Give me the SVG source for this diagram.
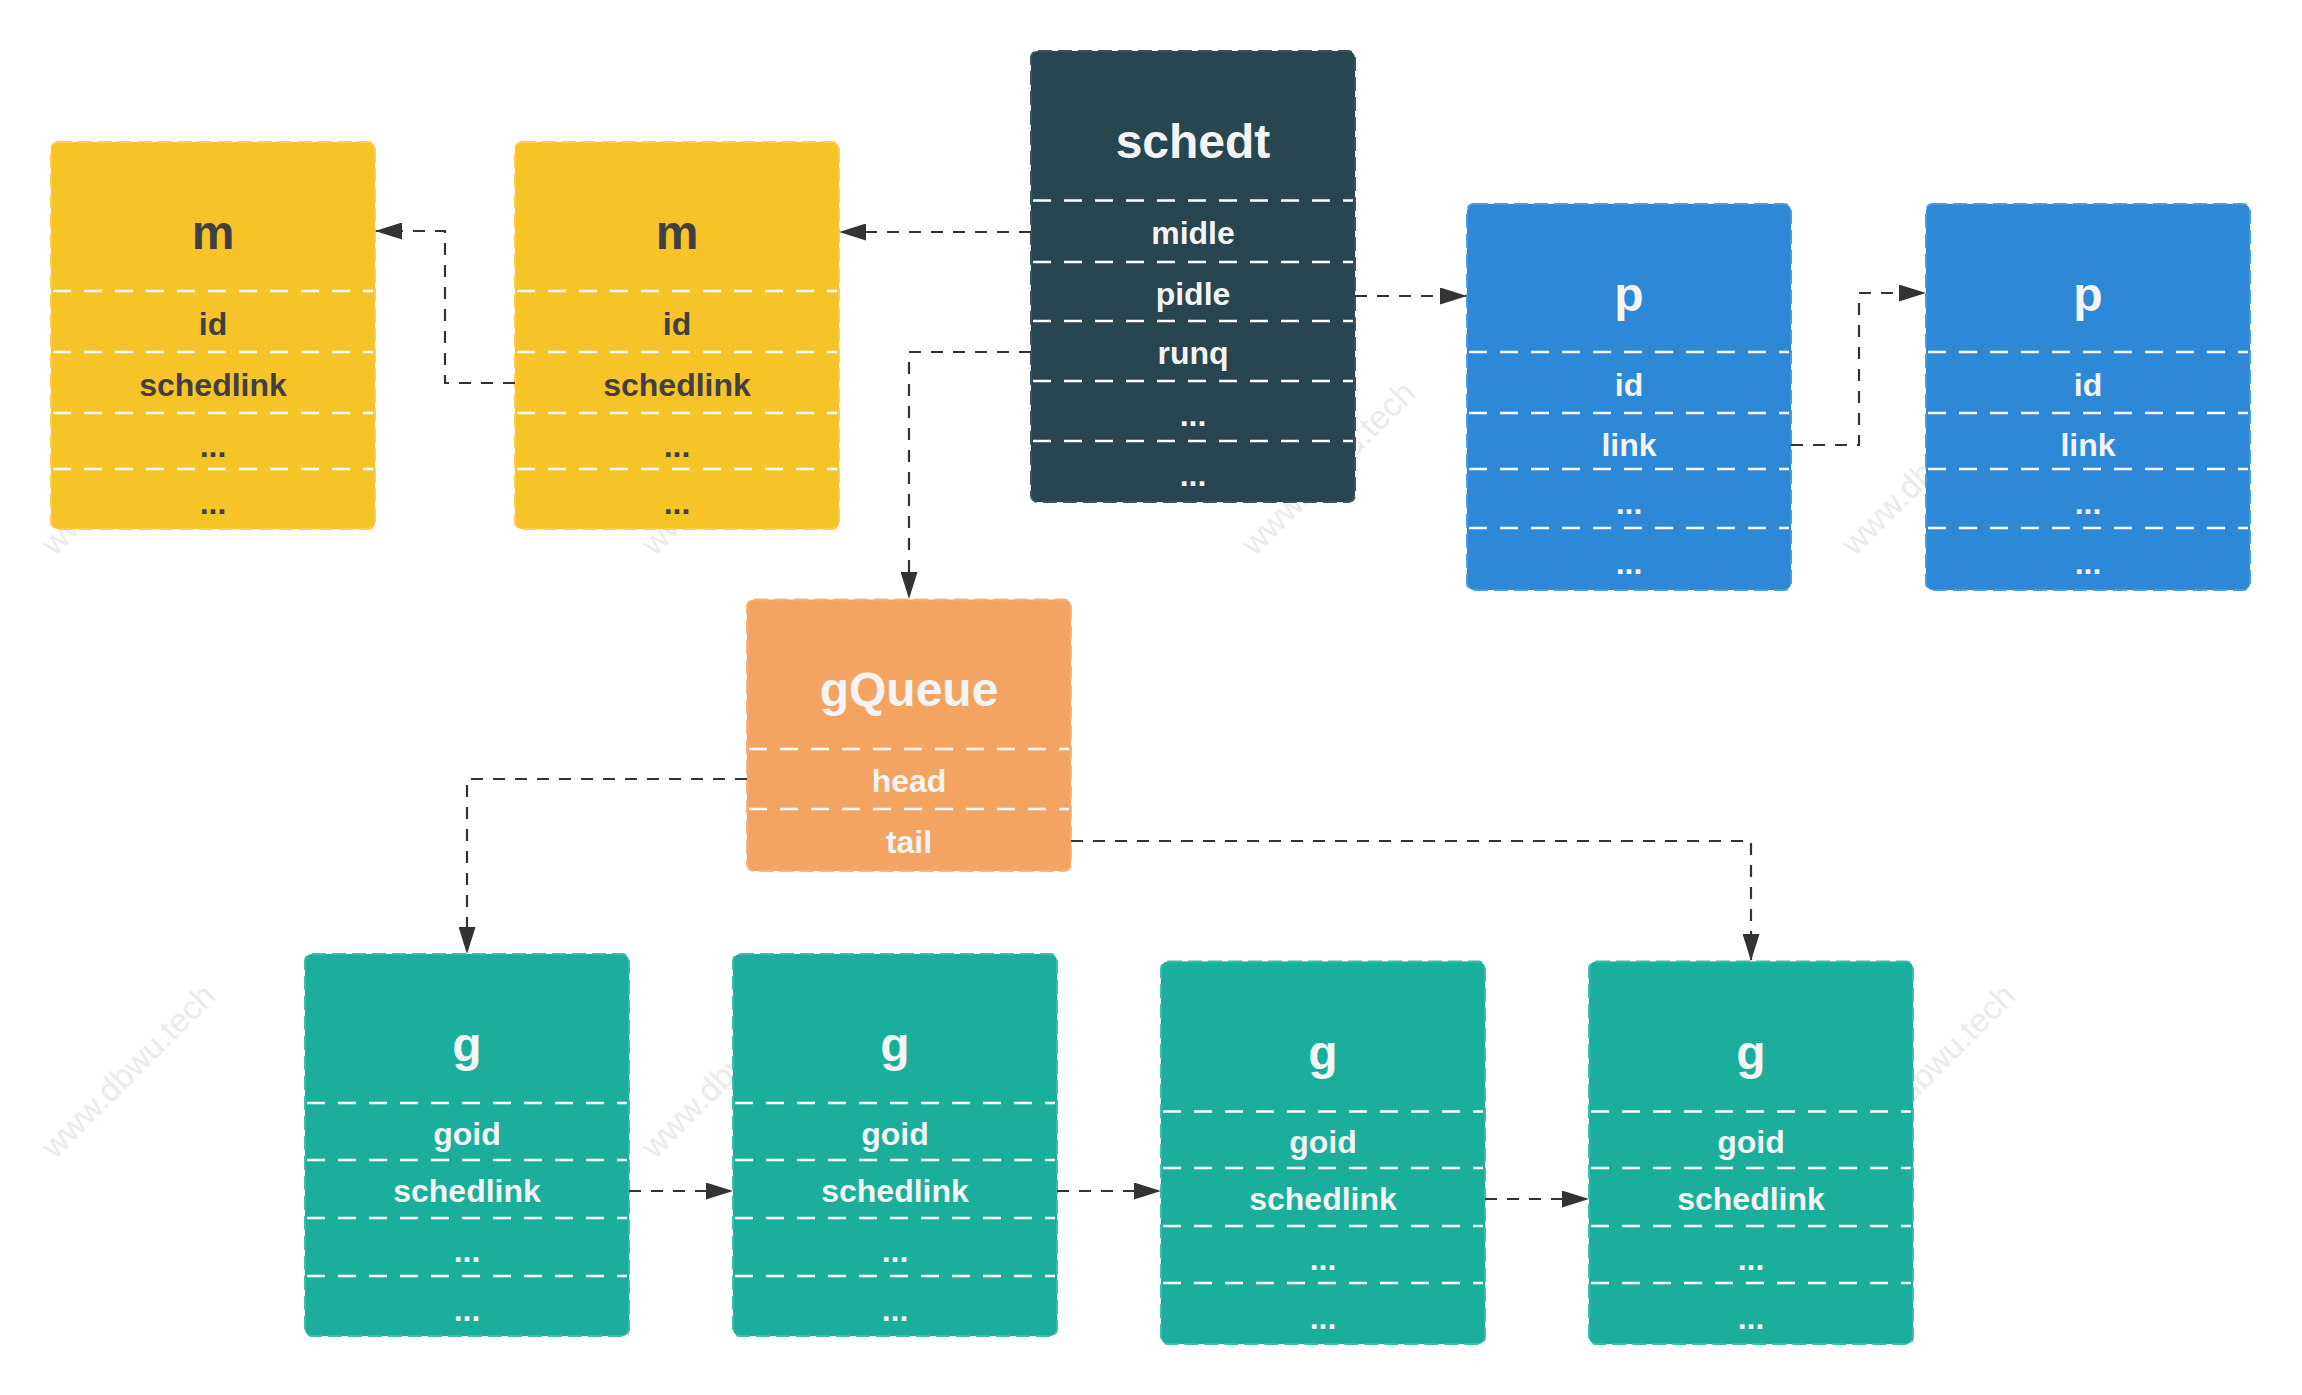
<svg xmlns="http://www.w3.org/2000/svg" width="2302" height="1395" viewBox="0 0 2302 1395">
<style>
text{font-family:"Liberation Sans",Arial,sans-serif;font-weight:bold;text-anchor:middle}
.wm{font-weight:normal;font-size:33px;fill:#ebebeb;text-anchor:start}
.title{font-size:48px}
.field{font-size:32px}
.box{stroke-width:2;stroke-dasharray:14 6}
.yellow .box{fill:#f6c329;stroke:#f8cf55}
.yellow text{fill:#3e4042}
.dark .box{fill:#27464f;stroke:#355660}
.blue .box{fill:#2d88d8;stroke:#4a9be0}
.orange .box{fill:#f3a462;stroke:#f5b47e}
.teal .box{fill:#1bae9d;stroke:#3cbcad}
.dark text,.blue text,.orange text,.teal text{fill:#f4f4f4}
.sep{stroke:#ffffff;stroke-width:2.5;stroke-dasharray:18 13;fill:none}
.conn{fill:none;stroke:#333333;stroke-width:2.2;stroke-dasharray:12 10;marker-end:url(#arr)}
</style>
<defs>
<marker id="arr" markerWidth="27" markerHeight="17" refX="26" refY="8.5" orient="auto" markerUnits="userSpaceOnUse">
<path d="M0,0 L27,8.5 L0,17 z" fill="#333333"/>
</marker>
</defs>
<rect width="2302" height="1395" fill="#ffffff"/>
<g id="watermarks">
<text class="wm" transform="translate(55,557) rotate(-45)">www.dbwu.tech</text>
<text class="wm" transform="translate(655,557) rotate(-45)">www.dbwu.tech</text>
<text class="wm" transform="translate(1255,557) rotate(-45)">www.dbwu.tech</text>
<text class="wm" transform="translate(1855,557) rotate(-45)">www.dbwu.tech</text>
<text class="wm" transform="translate(55,1160) rotate(-45)">www.dbwu.tech</text>
<text class="wm" transform="translate(655,1160) rotate(-45)">www.dbwu.tech</text>
<text class="wm" transform="translate(1255,1160) rotate(-45)">www.dbwu.tech</text>
<text class="wm" transform="translate(1855,1160) rotate(-45)">www.dbwu.tech</text>
</g>

<g id="m1" class="yellow">
<rect class="box" x="51" y="142" width="324" height="387" rx="7"/>
<path class="sep" d="M53,291H373M53,352H373M53,413H373M53,469H373"/>
<text class="title" x="213" y="249">m</text>
<text class="field" x="213" y="335">id</text>
<text class="field" x="213" y="396">schedlink</text>
<text class="field" x="213" y="457">...</text>
<text class="field" x="213" y="514">...</text>
</g>

<g id="m2" class="yellow">
<rect class="box" x="515" y="142" width="324" height="387" rx="7"/>
<path class="sep" d="M517,291H837M517,352H837M517,413H837M517,469H837"/>
<text class="title" x="677" y="249">m</text>
<text class="field" x="677" y="335">id</text>
<text class="field" x="677" y="396">schedlink</text>
<text class="field" x="677" y="457">...</text>
<text class="field" x="677" y="514">...</text>
</g>

<g id="schedt" class="dark">
<rect class="box" x="1031" y="51" width="324" height="451" rx="7"/>
<path class="sep" d="M1033,200.5H1353M1033,262H1353M1033,321H1353M1033,381H1353M1033,441H1353"/>
<text class="title" x="1193" y="158">schedt</text>
<text class="field" x="1193" y="244">midle</text>
<text class="field" x="1193" y="305">pidle</text>
<text class="field" x="1193" y="364">runq</text>
<text class="field" x="1193" y="426">...</text>
<text class="field" x="1193" y="486">...</text>
</g>

<g id="p1" class="blue">
<rect class="box" x="1467" y="204" width="324" height="386" rx="7"/>
<path class="sep" d="M1469,352H1789M1469,413H1789M1469,469H1789M1469,528H1789"/>
<text class="title" x="1629" y="311">p</text>
<text class="field" x="1629" y="396">id</text>
<text class="field" x="1629" y="456">link</text>
<text class="field" x="1629" y="514">...</text>
<text class="field" x="1629" y="574">...</text>
</g>

<g id="p2" class="blue">
<rect class="box" x="1926" y="204" width="324" height="386" rx="7"/>
<path class="sep" d="M1928,352H2248M1928,413H2248M1928,469H2248M1928,528H2248"/>
<text class="title" x="2088" y="311">p</text>
<text class="field" x="2088" y="396">id</text>
<text class="field" x="2088" y="456">link</text>
<text class="field" x="2088" y="514">...</text>
<text class="field" x="2088" y="574">...</text>
</g>

<g id="gQueue" class="orange">
<rect class="box" x="747" y="599.5" width="324" height="271.5" rx="7"/>
<path class="sep" d="M749,749H1069M749,809H1069"/>
<text class="title" x="909" y="706">gQueue</text>
<text class="field" x="909" y="792">head</text>
<text class="field" x="909" y="853">tail</text>
</g>

<g id="g1" class="teal">
<rect class="box" x="305" y="954" width="324" height="382" rx="7"/>
<path class="sep" d="M307,1103H627M307,1160H627M307,1218H627M307,1276H627"/>
<text class="title" x="467" y="1061">g</text>
<text class="field" x="467" y="1145">goid</text>
<text class="field" x="467" y="1202">schedlink</text>
<text class="field" x="467" y="1262">...</text>
<text class="field" x="467" y="1321">...</text>
</g>

<g id="g2" class="teal">
<rect class="box" x="733" y="954" width="324" height="382" rx="7"/>
<path class="sep" d="M735,1103H1055M735,1160H1055M735,1218H1055M735,1276H1055"/>
<text class="title" x="895" y="1061">g</text>
<text class="field" x="895" y="1145">goid</text>
<text class="field" x="895" y="1202">schedlink</text>
<text class="field" x="895" y="1262">...</text>
<text class="field" x="895" y="1321">...</text>
</g>

<g id="g3" class="teal">
<rect class="box" x="1161" y="961.5" width="324" height="382.5" rx="7"/>
<path class="sep" d="M1163,1111.5H1483M1163,1168H1483M1163,1226H1483M1163,1283H1483"/>
<text class="title" x="1323" y="1068.5">g</text>
<text class="field" x="1323" y="1153">goid</text>
<text class="field" x="1323" y="1210">schedlink</text>
<text class="field" x="1323" y="1269.5">...</text>
<text class="field" x="1323" y="1328.5">...</text>
</g>

<g id="g4" class="teal">
<rect class="box" x="1589" y="961.5" width="324" height="382.5" rx="7"/>
<path class="sep" d="M1591,1111.5H1911M1591,1168H1911M1591,1226H1911M1591,1283H1911"/>
<text class="title" x="1751" y="1068.5">g</text>
<text class="field" x="1751" y="1153">goid</text>
<text class="field" x="1751" y="1210">schedlink</text>
<text class="field" x="1751" y="1269.5">...</text>
<text class="field" x="1751" y="1328.5">...</text>
</g>

<g id="connectors">
<path class="conn" d="M1031,232H840"/>
<path class="conn" d="M515,383H445V231H376"/>
<path class="conn" d="M1355,296H1466"/>
<path class="conn" d="M1791,445H1859V293H1925"/>
<path class="conn" d="M1031,352H909V598"/>
<path class="conn" d="M747,779H467V953"/>
<path class="conn" d="M1071,841H1751V960"/>
<path class="conn" d="M629,1191H732"/>
<path class="conn" d="M1057,1191H1160"/>
<path class="conn" d="M1485,1199H1588"/>
</g>
</svg>
